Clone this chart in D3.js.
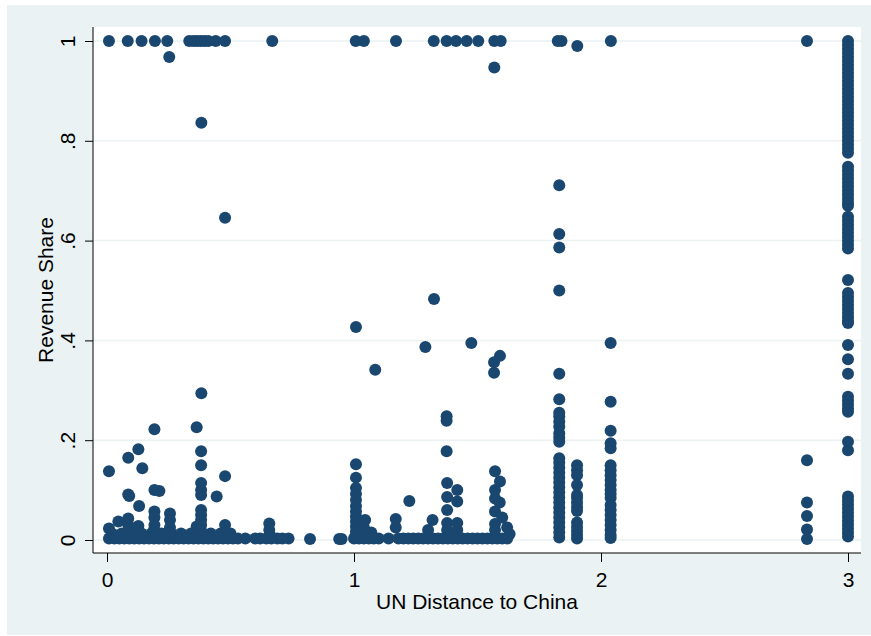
<!DOCTYPE html>
<html>
<head>
<meta charset="utf-8">
<script src="https://cdn.jsdelivr.net/npm/d3@7"></script>
<style>
  html, body { margin: 0; padding: 0; background: #fff; }
  svg { display: block; }
  text { font-family: "Liberation Sans", Arial, sans-serif; fill: #000; }
</style>
</head>
<body>
<svg id="chart" width="871" height="636"></svg>
<script>
// tick labels
const xTicks = [0, 1, 2, 3]
const yTicks = [0, .2, .4, .6, .8, 1]
const yTickLabels = ["0", ".2", ".4", ".6", ".8", "1"]

// firms with the whole revenue share (share = 1), by UN distance
const fullShareX = [0.008, 0.084, 0.14, 0.194, 0.244, 0.333, 0.35, 0.365, 0.38, 0.395, 0.41,
    0.44, 0.478, 0.669, 1.007, 1.04, 1.17, 1.323, 1.375, 1.413, 1.456, 1.503, 1.568, 1.594,
    1.825, 1.84, 2.04, 2.834, 3.0]

// scattered points, [distance, share]
const scattered = [
    [0.252, 0.968], [0.382, 0.836], [0.478, 0.646], [1.568, 0.947], [1.904, 0.99],
    [1.324, 0.483], [1.008, 0.427], [1.289, 0.387], [1.475, 0.395], [1.591, 0.369],
    [1.567, 0.356], [1.567, 0.335], [1.086, 0.341], [1.375, 0.248], [1.375, 0.239],
    [1.375, 0.178], [0.382, 0.294], [0.363, 0.226]
]

// low shares for distance 0 - 0.95
const lowLeft = [
    [0.008, 0.138], [0.086, 0.165], [0.127, 0.182], [0.143, 0.144], [0.192, 0.222],
    [0.086, 0.091], [0.09, 0.088], [0.13, 0.068], [0.192, 0.1], [0.212, 0.098],
    [0.046, 0.037], [0.086, 0.043], [0.086, 0.03], [0.127, 0.028], [0.008, 0.023],
    [0.192, 0.057], [0.192, 0.045], [0.192, 0.03], [0.255, 0.053], [0.255, 0.04],
    [0.255, 0.025], [0.381, 0.178], [0.381, 0.15], [0.381, 0.114], [0.381, 0.1],
    [0.381, 0.09], [0.381, 0.06], [0.381, 0.05], [0.381, 0.04], [0.381, 0.03], [0.478, 0.128],
    [0.444, 0.087], [0.363, 0.027], [0.478, 0.03], [0.657, 0.033], [0.657, 0.02],
    [0.008, 0.003], [0.03, 0.003], [0.05, 0.003], [0.07, 0.003], [0.09, 0.003],
    [0.11, 0.003], [0.13, 0.003], [0.15, 0.003], [0.17, 0.003], [0.19, 0.003],
    [0.21, 0.003], [0.23, 0.003], [0.25, 0.003], [0.27, 0.003], [0.29, 0.003],
    [0.31, 0.003], [0.33, 0.003], [0.35, 0.003], [0.37, 0.003], [0.39, 0.003],
    [0.41, 0.003], [0.43, 0.003], [0.45, 0.003], [0.47, 0.003], [0.49, 0.003],
    [0.51, 0.003], [0.53, 0.003], [0.56, 0.003], [0.6, 0.003], [0.62, 0.003],
    [0.645, 0.003], [0.665, 0.003], [0.69, 0.003], [0.71, 0.003], [0.735, 0.003],
    [0.822, 0.002], [0.94, 0.002], [0.95, 0.002],
    [0.02, 0.013], [0.06, 0.013], [0.1, 0.013], [0.14, 0.013], [0.18, 0.013],
    [0.22, 0.013], [0.26, 0.013], [0.3, 0.013], [0.34, 0.013], [0.38, 0.013],
    [0.42, 0.013], [0.46, 0.013], [0.5, 0.013], [0.66, 0.01],
    [0.19, 0.02], [0.25, 0.015], [0.38, 0.02], [0.2, 0.01]
]

// low shares for distance 1 - 1.63
const lowMiddle = [
    [1.008, 0.152], [1.008, 0.125], [1.008, 0.104], [1.008, 0.092], [1.008, 0.08],
    [1.008, 0.068], [1.008, 0.057], [1.008, 0.047], [1.008, 0.037], [1.008, 0.027],
    [1.008, 0.017], [1.008, 0.01],
    [1.045, 0.04], [1.04, 0.025], [1.07, 0.015], [1.169, 0.042], [1.169, 0.025],
    [1.224, 0.078], [1.318, 0.04], [1.3, 0.02],
    [1.377, 0.114], [1.377, 0.086], [1.377, 0.06], [1.377, 0.034], [1.377, 0.02],
    [1.418, 0.1], [1.418, 0.077], [1.418, 0.034], [1.418, 0.02],
    [1.571, 0.138], [1.571, 0.1], [1.571, 0.083], [1.571, 0.057], [1.571, 0.032],
    [1.571, 0.02], [1.591, 0.117], [1.59, 0.075], [1.6, 0.045], [1.62, 0.025],
    [1.63, 0.012],
    [1.0, 0.003], [1.02, 0.003], [1.04, 0.003], [1.06, 0.003], [1.08, 0.003],
    [1.1, 0.003], [1.14, 0.003], [1.18, 0.003], [1.2, 0.003], [1.22, 0.003],
    [1.24, 0.003], [1.26, 0.003], [1.28, 0.003], [1.3, 0.003], [1.32, 0.003],
    [1.34, 0.003], [1.36, 0.003], [1.38, 0.003], [1.4, 0.003], [1.42, 0.003],
    [1.44, 0.003], [1.46, 0.003], [1.48, 0.003], [1.5, 0.003], [1.52, 0.003],
    [1.54, 0.003], [1.56, 0.003], [1.58, 0.003], [1.6, 0.003], [1.62, 0.003]
]

// columns of shares at single distances
const col183 = [0.711, 0.613, 0.586, 0.5, 0.333, 0.282, 0.255, 0.248, 0.237, 0.227, 0.214,
    0.205, 0.197, 0.164, 0.155, 0.145, 0.135, 0.125, 0.115, 0.105, 0.095, 0.085, 0.075,
    0.065, 0.055, 0.045, 0.035, 0.025, 0.015, 0.005]
const col190 = [0.15, 0.14, 0.13, 0.11, 0.09, 0.084, 0.075, 0.066, 0.058, 0.035, 0.026,
    0.018, 0.01, 0.003]
const col204 = [0.395, 0.277, 0.219, 0.194, 0.184, 0.15, 0.14, 0.13, 0.12, 0.11, 0.1,
    0.092, 0.084, 0.07, 0.06, 0.05, 0.04, 0.03, 0.02, 0.01, 0.004]
const col283 = [0.16, 0.075, 0.048, 0.021, 0.002]
const col300 = [0.992, 0.984, 0.976, 0.968, 0.96, 0.952, 0.944, 0.936, 0.928, 0.92, 0.912,
    0.904, 0.896, 0.888, 0.88, 0.872, 0.864, 0.856, 0.848, 0.84, 0.832, 0.824, 0.816,
    0.808, 0.8, 0.792, 0.784, 0.776, 0.748, 0.74, 0.732, 0.724, 0.716, 0.708, 0.7,
    0.692, 0.684, 0.676, 0.67, 0.648, 0.64, 0.632, 0.624, 0.616, 0.608, 0.6, 0.592,
    0.584, 0.521, 0.495, 0.487, 0.479, 0.471, 0.463, 0.455, 0.447, 0.44, 0.435, 0.391,
    0.362, 0.333, 0.287, 0.279, 0.271, 0.263, 0.257, 0.197, 0.18, 0.087, 0.079, 0.071,
    0.063, 0.055, 0.047, 0.039, 0.031, 0.023, 0.015, 0.007]

const points = [
    ...fullShareX.map(d => [d, 1]),
    ...scattered, ...lowLeft, ...lowMiddle,
    ...col183.map(v => [1.831, v]),
    ...col190.map(v => [1.903, v]),
    ...col204.map(v => [2.039, v]),
    ...col283.map(v => [2.834, v]),
    ...col300.map(v => [3.0, v]),
]

const plot = {left: 93, right: 861, top: 27, bottom: 553}
const navy = "#1a476f"
const bg = "#eaf2f3"

const svg = d3.select("#chart")

svg.append("rect")
    .attr("x", 7).attr("y", 5)
    .attr("width", 864).attr("height", 630)
    .attr("fill", bg)

svg.append("rect")
    .attr("x", plot.left).attr("y", plot.top)
    .attr("width", plot.right - plot.left).attr("height", plot.bottom - plot.top)
    .attr("fill", "#fff")

const x = d3.scaleLinear().domain([0, 3]).range([107, 848])
const y = d3.scaleLinear().domain([0, 1]).range([540, 41])

// grid
svg.append("g")
    .selectAll("line")
    .data(yTicks)
    .join("line")
    .attr("x1", plot.left).attr("x2", plot.right)
    .attr("y1", d => y(d)).attr("y2", d => y(d))
    .attr("stroke", bg)
    .attr("stroke-width", 1.5)

// markers
svg.append("g")
    .selectAll("circle")
    .data(points)
    .join("circle")
    .attr("cx", d => x(d[0]))
    .attr("cy", d => y(d[1]))
    .attr("r", 6)
    .attr("fill", navy)

// y axis
const yAxis = svg.append("g")
    .attr("transform", `translate(${plot.left},0)`)
    .call(d3.axisLeft(y).tickValues(yTicks).tickSize(8).tickFormat((d, i) => yTickLabels[i]))
yAxis.select(".domain").remove()
yAxis.selectAll(".tick line").attr("stroke", "#000")
yAxis.selectAll(".tick text")
    .attr("font-size", 21)
    .attr("font-family", "Liberation Sans, Arial, sans-serif")
    .attr("transform", "rotate(-90)")
    .attr("x", 0).attr("y", -18).attr("dy", "0em")
    .attr("text-anchor", "middle")

svg.append("line")
    .attr("x1", plot.left).attr("x2", plot.left)
    .attr("y1", plot.top).attr("y2", plot.bottom)
    .attr("stroke", "#000")

// x axis
const xAxis = svg.append("g")
    .attr("transform", `translate(0,${plot.bottom})`)
    .call(d3.axisBottom(x).tickValues(xTicks).tickSize(9).tickFormat(d3.format("d")))
xAxis.select(".domain").remove()
xAxis.selectAll(".tick line").attr("stroke", "#000")
xAxis.selectAll(".tick text")
    .attr("font-size", 21)
    .attr("font-family", "Liberation Sans, Arial, sans-serif")
    .attr("y", 34).attr("dy", "0em")

svg.append("line")
    .attr("x1", plot.left).attr("x2", plot.right)
    .attr("y1", plot.bottom).attr("y2", plot.bottom)
    .attr("stroke", "#000")

// titles
svg.append("text")
    .attr("x", (plot.left + plot.right) / 2)
    .attr("y", 609)
    .attr("text-anchor", "middle")
    .attr("font-size", 21)
    .text("UN Distance to China")

svg.append("text")
    .attr("transform", `translate(53,${(plot.top + plot.bottom) / 2}) rotate(-90)`)
    .attr("text-anchor", "middle")
    .attr("font-size", 21)
    .text("Revenue Share")
</script>
</body>
</html>
